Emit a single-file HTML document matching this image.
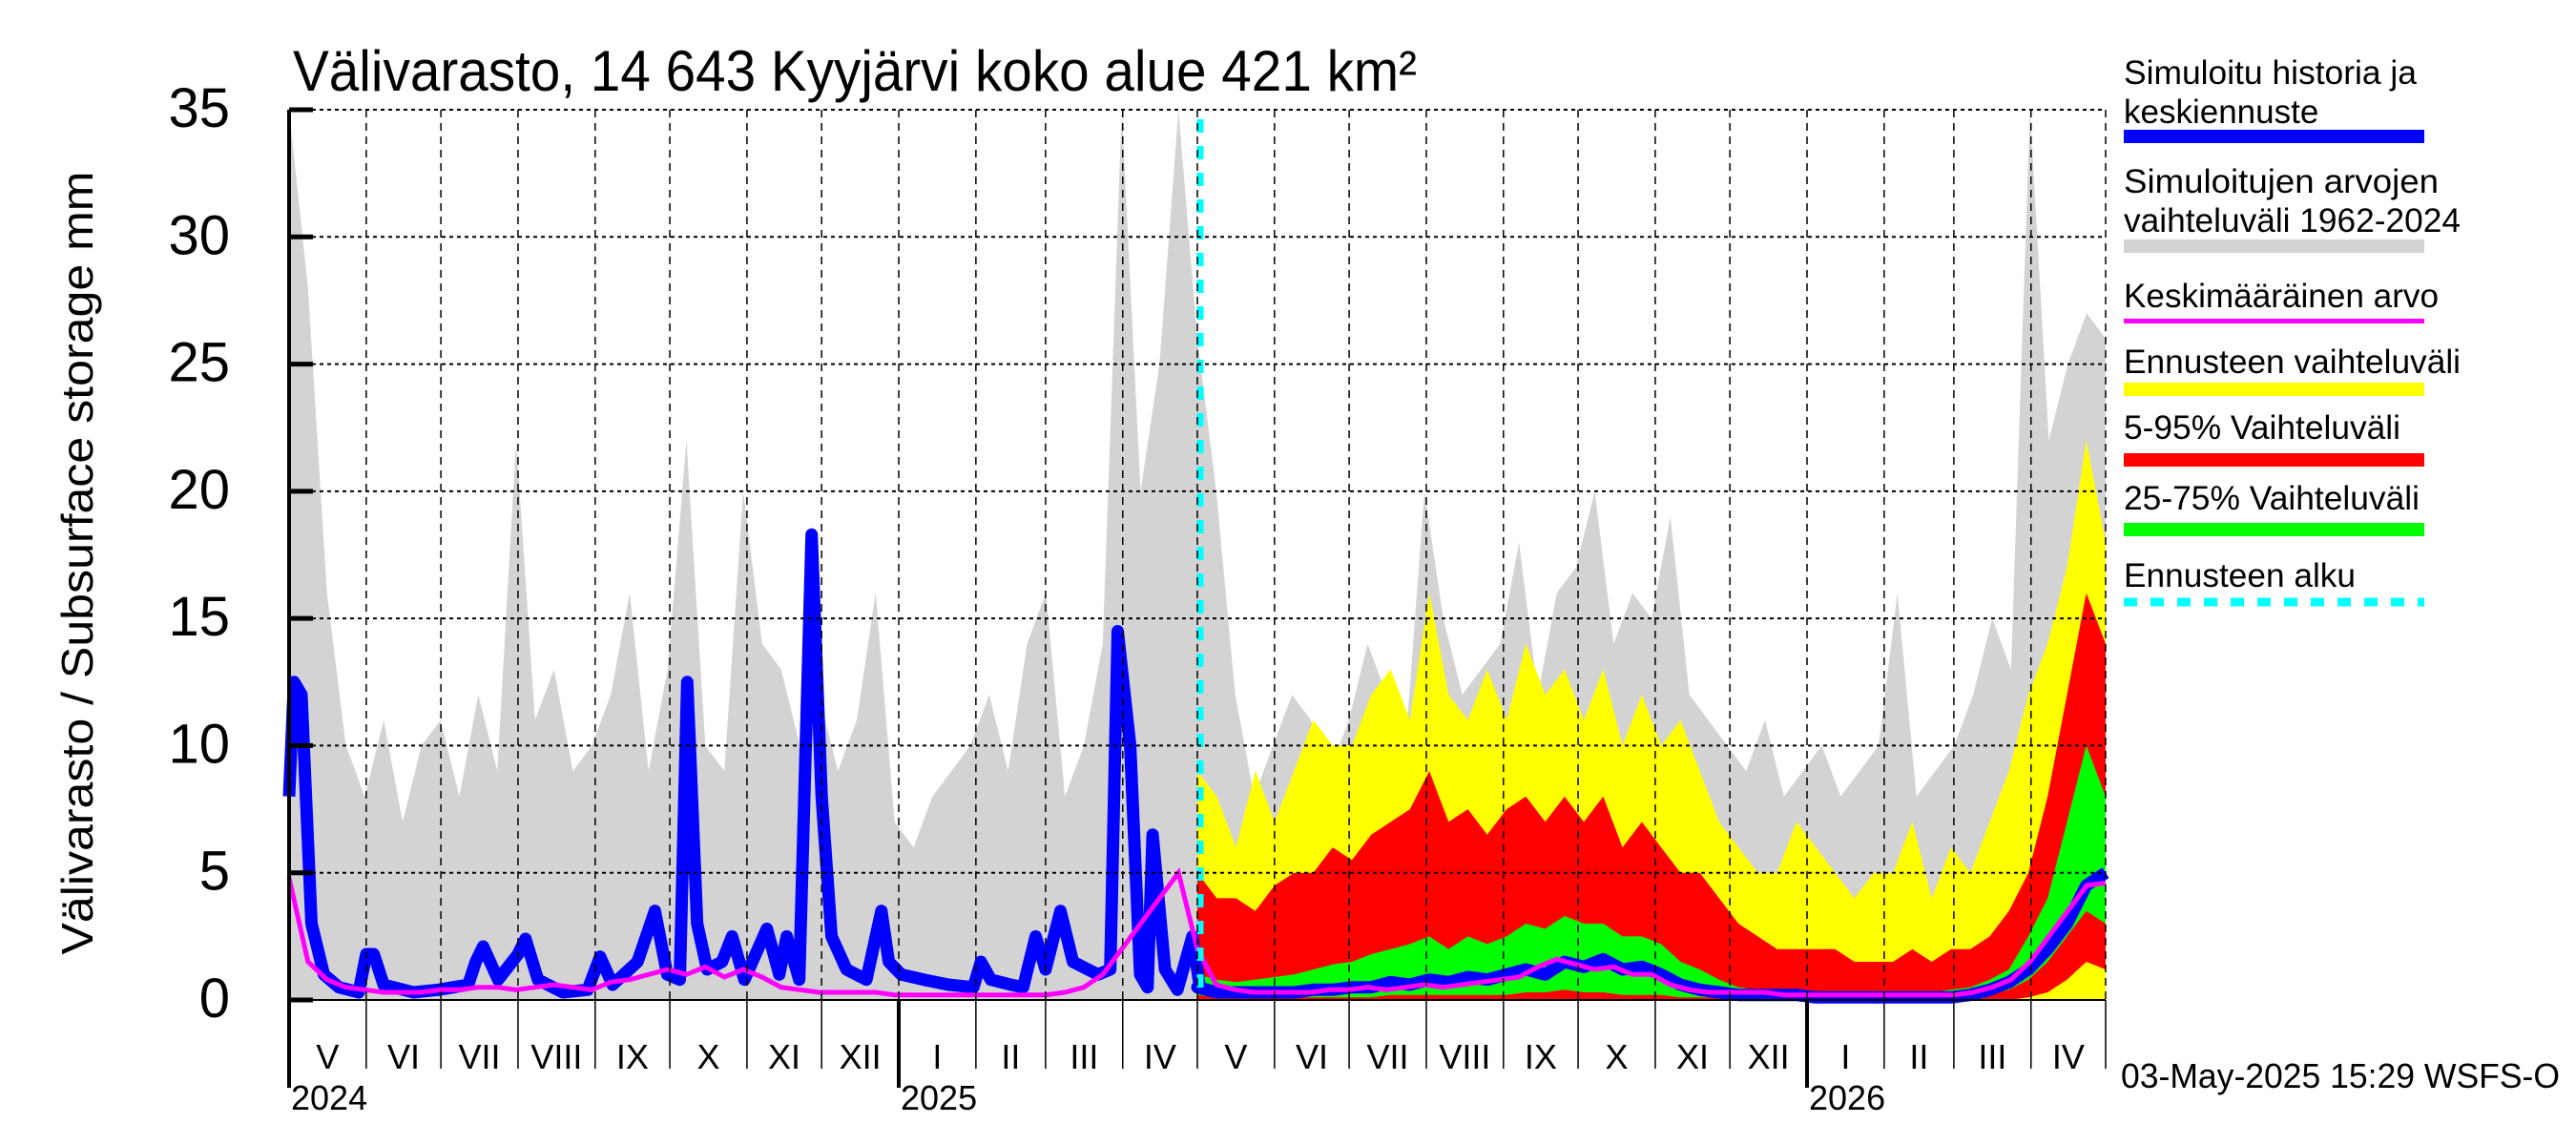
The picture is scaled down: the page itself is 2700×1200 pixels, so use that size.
<!DOCTYPE html>
<html><head><meta charset="utf-8"><style>
body{margin:0;background:#fff;}
svg{display:block;font-family:"Liberation Sans",sans-serif;}
</style></head><body>
<svg id="chart" width="2700" height="1200" viewBox="0 0 2700 1200" xmlns="http://www.w3.org/2000/svg">
<rect width="2700" height="1200" fill="#fff"/>
<g id="plot"></g>
<g id="axes"></g>
<text x="307" y="95" font-size="60" textLength="1178" lengthAdjust="spacingAndGlyphs">Välivarasto, 14 643 Kyyjärvi koko alue 421 km²</text>
<text transform="translate(97,590) rotate(-90)" text-anchor="middle" font-size="46" textLength="821" lengthAdjust="spacingAndGlyphs">Välivarasto / Subsurface storage  mm</text>
<g font-size="35">
 <text x="2226" y="88" textLength="307" lengthAdjust="spacingAndGlyphs">Simuloitu historia ja</text>
 <text x="2226" y="129">keskiennuste</text>
 <rect x="2226" y="136" width="315" height="14" fill="#0000ff"/>
 <text x="2226" y="202" textLength="330" lengthAdjust="spacingAndGlyphs">Simuloitujen arvojen</text>
 <text x="2226" y="243" textLength="353" lengthAdjust="spacingAndGlyphs">vaihteluväli 1962-2024</text>
 <rect x="2226" y="251" width="315" height="14" fill="#d3d3d3"/>
 <text x="2226" y="322" textLength="330" lengthAdjust="spacingAndGlyphs">Keskimääräinen arvo</text>
 <rect x="2226" y="334" width="315" height="5" fill="#ff00ff"/>
 <text x="2226" y="391" textLength="353" lengthAdjust="spacingAndGlyphs">Ennusteen vaihteluväli</text>
 <rect x="2226" y="401" width="315" height="14" fill="#ffff00"/>
 <text x="2226" y="460" textLength="290" lengthAdjust="spacingAndGlyphs">5-95% Vaihteluväli</text>
 <rect x="2226" y="475" width="315" height="14" fill="#ff0000"/>
 <text x="2226" y="534" textLength="310" lengthAdjust="spacingAndGlyphs">25-75% Vaihteluväli</text>
 <rect x="2226" y="548" width="315" height="14" fill="#00ff00"/>
 <text x="2226" y="615" textLength="243" lengthAdjust="spacingAndGlyphs">Ennusteen alku</text>
 <line x1="2226" y1="631" x2="2541" y2="631" stroke="#00ffff" stroke-width="9" stroke-dasharray="14,14"/>
</g>
<text x="2223" y="1140" font-size="36" textLength="460" lengthAdjust="spacingAndGlyphs">03-May-2025 15:29 WSFS-O</text>
</svg>
<script>
// ---- data ----
const yTicks = [0,5,10,15,20,25,30,35];
const monthLabels = ["V","VI","VII","VIII","IX","X","XI","XII","I","II","III","IV","V","VI","VII","VIII","IX","X","XI","XII","I","II","III","IV"];
const monthDays = [31,30,31,31,30,31,30,31,31,28,31,30,31,30,31,31,30,31,30,31,31,28,31,30];
const yearLabels = ["2024","2025","2026"];
const yearMonthIndex = [0,8,20];
// historical range max (4 per month, May 2024 .. Apr 2026 + end)
const rangeMax = [35,28,16,10, 8,11,7,10, 11,8,12,9, 22,11,13,9, 10,12,16,9, 13,22,10,9, 20,14,13,10, 12,9,11,16, 7,6,8,9, 10,12,9,14, 16,8,10,14, 35,20,25,35,
 26,20,12,8, 10,12,11,9, 11,14,12,10, 20,15,12,13, 14,18,12,16, 17,20,14,16, 15,19,12,11, 10,9,11,8, 9,10,8,9, 10,16,8,9, 10,12,15,13, 35,22,25,27, 26];
// level below which the historical range is solidly filled
const rangeSolid = [20,12,8,6, 5,5,5,6, 6,6,7,7, 8,8,8,7, 7,8,9,7, 8,10,8,7, 9,9,8,7, 6,6,6,6, 4,3,4,5, 5,5,5,6, 6,5,6,8, 15,15,18,25,
 18,12,7,5, 6,7,7,6, 7,8,8,7, 10,10,9,9, 9,10,9,10, 10,11,9,10, 9,10,7,6, 5,5,5,4, 4,4,4,4, 4,6,4,5, 5,6,8,8, 15,14,16,18, 18];
// mean value (same spacing)
const meanVals = [4.8,1.5,0.8,0.5, 0.4,0.3,0.3,0.3, 0.4,0.4,0.5,0.5, 0.4,0.5,0.6,0.5, 0.4,0.7,0.8,1.0, 1.2,1.0,1.3,0.9, 1.2,0.9,0.5,0.4, 0.3,0.3,0.3,0.3, 0.2,0.2,0.2,0.2, 0.2,0.2,0.2,0.2, 0.2,0.3,0.5,1.0, 2,3,4,5,
 2,0.6,0.4,0.3, 0.3,0.3,0.3,0.4, 0.4,0.5,0.4,0.5, 0.6,0.5,0.6,0.7, 0.8,0.9,1.3,1.6, 1.4,1.2,1.3,1.0, 1.0,0.6,0.4,0.3, 0.3,0.3,0.3,0.2, 0.2,0.2,0.2,0.2, 0.2,0.2,0.2,0.2, 0.2,0.3,0.5,0.8, 1.5,2.5,3.5,4.5, 4.6];
// simulated history (days since 1 May 2024, value)
const histDays = [0,2,5,9,14,20,28,31,34,38,50,60,72,75,78,84,92,95,100,110,120,125,130,140,147,152,157,160,164,168,174,178,183,192,197,200,205,210,214,218,224,232,238,241,246,255,265,275,278,282,290,295,300,304,310,315,325,330,333,338,342,345,347,352,357,363,366];
const histVals = [8,12.5,12,3,1,0.5,0.3,1.8,1.8,0.6,0.3,0.4,0.6,1.5,2.1,0.8,1.8,2.4,0.8,0.3,0.4,1.7,0.6,1.5,3.5,1.0,0.8,12.5,3,1.2,1.5,2.5,0.8,2.8,1.0,2.5,0.8,18.3,8,2.5,1.2,0.8,3.5,1.5,1.0,0.8,0.6,0.5,1.5,0.8,0.6,0.5,2.5,1.2,3.5,1.5,1.0,1.2,14.5,10,1.0,0.5,6.5,1.2,0.4,2.5,0.5];
// forecast (4 per month, May 2025 .. Apr 2026)
const fcMedian = [0.5,0.3,0.3,0.3, 0.3,0.3,0.4,0.4, 0.5,0.5,0.7,0.6, 0.8,0.7,0.9,0.8, 1.0,1.2,1.0,1.5, 1.3,1.6,1.2,1.3, 1.0,0.6,0.4,0.3, 0.2,0.2,0.2,0.2, 0.1,0.1,0.1,0.1, 0.1,0.1,0.1,0.1, 0.2,0.4,0.7,1.2, 2,3,4.5,5];
const fcMax = [9,8,6,9, 7,9,11,10, 10,12,13,11, 16,12,11,13, 11,14,12,13, 11,13,10,12, 10,11,9,7, 6,5,5,7, 6,5,4,5, 5,7,4,6, 5,7,9,12, 14,17,22,18];
const fcP95 = [5,4,4,3.5, 4.5,5,5,6, 5.5,6.5,7,7.5, 9,7,7.5,6.5, 7.5,8,7,8, 7,8,6,7, 6,5,5,4, 3,2.5,2,2, 2,2,1.5,1.5, 1.5,2,1.5,2, 2,2.5,3.5,5, 8,12,16,14];
const fcP75 = [1,0.8,0.7,0.8, 0.9,1,1.2,1.4, 1.5,1.8,2,2.2, 2.5,2,2.5,2.2, 2.5,3,2.8,3.3, 3,3,2.5,2.5, 2.2,1.5,1.2,0.8, 0.5,0.4,0.4,0.3, 0.3,0.3,0.3,0.3, 0.3,0.3,0.3,0.4, 0.5,0.8,1.2,2.5, 4,7,10,8];
const fcP25 = [0.2,0.1,0.1,0.1, 0.1,0.1,0.1,0.1, 0.1,0.1,0.2,0.2, 0.2,0.2,0.2,0.2, 0.2,0.3,0.3,0.4, 0.3,0.3,0.2,0.2, 0.2,0.1,0.1,0.1, 0.1,0.1,0.1,0.1, 0.1,0.1,0.1,0.1, 0.1,0.1,0.1,0.1, 0.1,0.2,0.4,0.8, 1.5,2.5,3.5,3];
const fcP05 = [0,0,0,0, 0,0,0,0, 0,0,0,0, 0,0,0,0, 0,0,0,0, 0,0,0,0, 0,0,0,0, 0,0,0,0, 0,0,0,0, 0,0,0,0, 0,0,0,0.1, 0.3,0.8,1.5,1.2];
const forecastStartDay = 365;

// ---- axes ----
const X0=303, X1=2207, Y0=1048, Y1=115, TOTAL=730, YMAX=35;
function xs(d){return X0+(d/TOTAL)*(X1-X0);}
function ys(v){return Y0-(v/YMAX)*(Y0-Y1);}
const NS="http://www.w3.org/2000/svg";
const plot=document.getElementById('plot'), axes=document.getElementById('axes');
function mk(tag,attrs,parent){const e=document.createElementNS(NS,tag);for(const k in attrs)e.setAttribute(k,attrs[k]);parent.appendChild(e);return e;}
function evenDay(i,n,start,span){return start+i*span/(n-1);}
function pts(vals,start,span){return vals.map((v,i)=>xs(evenDay(i,vals.length,start,span)).toFixed(1)+','+ys(v).toFixed(1));}
function band(lo,hi,start,span){
  const top=pts(hi,start,span), bot=pts(lo,start,span).reverse();
  return top.concat(bot).join(' ');
}

// gridlines
let cum=0;
const monthStart=[0];
monthDays.forEach(d=>{cum+=d;monthStart.push(cum);});
monthStart.forEach((d,i)=>{
  const g=mk('line',{x1:xs(d),x2:xs(d),y1:Y1,y2:Y0,stroke:'#000','stroke-width':1.5,'stroke-dasharray':'8,6'},axes);
  
  
});
yTicks.forEach(v=>{
  if(v===0)return;
  const g=mk('line',{x1:X0,x2:X1,y1:ys(v),y2:ys(v),stroke:'#000','stroke-width':2,'stroke-dasharray':'4,4'},axes);
  
  
});

// range (gray)
const zeros97=rangeMax.map(()=>0);
const rg=mk('polygon',{points:band(zeros97,rangeMax,0,TOTAL),fill:'#d3d3d3'},plot);


const rs=mk('polygon',{points:band(zeros97,rangeSolid,0,TOTAL),fill:'#d3d3d3'},plot);


// forecast bands
const fspan=TOTAL-forecastStartDay;
const zf=fcMax.map(()=>0);
const yb=mk('polygon',{points:band(zf,fcMax,forecastStartDay,fspan),fill:'#ffff00'},plot);


const rb=mk('polygon',{points:band(fcP05,fcP95,forecastStartDay,fspan),fill:'#ff0000'},plot);


const gb=mk('polygon',{points:band(fcP25,fcP75,forecastStartDay,fspan),fill:'#00ff00'},plot);


// history + forecast median (blue)
const histPts=histDays.map((d,i)=>xs(d).toFixed(1)+','+ys(histVals[i]).toFixed(1));
const bl=mk('polyline',{points:histPts.concat(pts(fcMedian,forecastStartDay,fspan)).join(' '),fill:'none',stroke:'#0000ff','stroke-width':13,'stroke-linejoin':'round'},plot);


// mean (magenta)
const ml=mk('polyline',{points:pts(meanVals,0,TOTAL).join(' '),fill:'none',stroke:'#ff00ff','stroke-width':5},plot);


// forecast start
const fs=mk('line',{x1:xs(forecastStartDay)+3,x2:xs(forecastStartDay)+3,y1:Y1+10,y2:Y0,stroke:'#00ffff','stroke-width':7,'stroke-dasharray':'14,14'},plot);



// frame / axis
const la=mk('line',{x1:X0,x2:X0,y1:Y1,y2:Y0,stroke:'#000','stroke-width':4},axes);


const ba=mk('line',{x1:X0,x2:X1,y1:Y0,y2:Y0,stroke:'#000','stroke-width':2},axes);


yTicks.forEach(v=>{
  const t=mk('line',{x1:X0,x2:X0+25,y1:ys(v),y2:ys(v),stroke:'#000','stroke-width':5},axes);
  
  
  const l=mk('text',{x:241,y:ys(v)+18,'text-anchor':'end','font-size':58},axes);
  
  
  l.textContent=String(v);
});
monthStart.forEach((d,i)=>{
  const isYear=yearMonthIndex.includes(i);
  const t=mk('line',{x1:xs(d),x2:xs(d),y1:Y0,y2:isYear?1140:1120,stroke:'#000','stroke-width':isYear?4:1.5},axes);
  
  
  if(i<monthLabels.length){
    const l=mk('text',{x:(xs(d)+xs(monthStart[i+1]))/2,y:1120,'text-anchor':'middle','font-size':36},axes);
    
    
    l.textContent=monthLabels[i];
  }
});
yearLabels.forEach((y,k)=>{
  const l=mk('text',{x:xs(monthStart[yearMonthIndex[k]])+2,y:1163,'font-size':36},axes);
  
  
  l.textContent=y;
});
</script>
</body></html>
